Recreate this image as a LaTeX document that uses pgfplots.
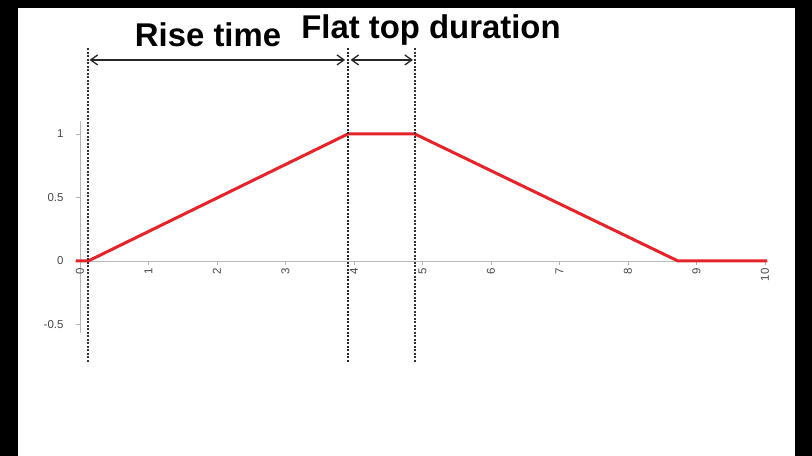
\documentclass[border=0pt]{standalone}
\usepackage{fontspec}
\setmainfont{Liberation Sans}
\usepackage{pgfplots}
\pgfplotsset{compat=1.18}
\usetikzlibrary{arrows.meta}
\definecolor{pulse}{RGB}{230,35,40}
\begin{document}
\begin{tikzpicture}[x=1bp,y=1bp]
\fill[black] (0,0) rectangle (812,456);
\fill[white] (18,0) rectangle (795,448);
\begin{axis}[
  at={(74.5bp,122.6bp)}, anchor=south west,
  scale only axis, width=693.9bp, height=212.1bp,
  xmin=-0.08, xmax=10.05, ymin=-0.57, ymax=1.1,
  axis lines=middle, axis line style={-, draw=black!28, line width=0.8bp},
  hide obscured x ticks=false, hide obscured y ticks=false,
  clip=false,
  xtick={0,1,2,3,4,5,6,7,8,9,10}, ytick={-0.5,0,0.5,1},
  yticklabels={-0.5,0,0.5,1},
  tick align=outside, major tick length=4bp,
  tick style={black!30, line width=0.6bp},
  ticklabel style={font=\fontsize{11.5}{13}\selectfont, text=black!72},
  xticklabel style={rotate=90, anchor=east},
  yticklabel style={xshift=-9bp},
  /pgf/number format/assume math mode=true,
]
\addplot[pulse, line width=3bp] coordinates {(-0.06,0) (0.12,0) (3.91,1) (4.89,1) (8.73,0) (10.03,0)};
\addplot[black!80, line width=1.6bp, dash pattern=on 2.2bp off 1.3bp] coordinates {(0.117,-0.795) (0.117,1.677)};
\addplot[black!85, line width=1.6bp, dash pattern=on 2.2bp off 1.3bp] coordinates {(3.91,-0.795) (3.91,1.677)};
\addplot[black!80, line width=1.6bp, dash pattern=on 2.2bp off 1.3bp] coordinates {(4.89,-0.795) (4.89,1.677)};
\draw[black!85, line width=1.3bp, {Straight Barb[length=7bp,width=10bp]}-{Straight Barb[length=7bp,width=10bp]}] (axis cs:0.14,1.583) -- (axis cs:3.87,1.583);
\draw[black!85, line width=1.3bp, {Straight Barb[length=7bp,width=10bp]}-{Straight Barb[length=7bp,width=10bp]}] (axis cs:3.95,1.583) -- (axis cs:4.86,1.583);
\node[anchor=base, font=\fontsize{33}{36}\selectfont\bfseries] at (axis cs:1.87,1.685) {Rise time};
\node[anchor=base, font=\fontsize{33}{36}\selectfont\bfseries] at (axis cs:5.124,1.748) {Flat top duration};
\end{axis}
\end{tikzpicture}
\end{document}
